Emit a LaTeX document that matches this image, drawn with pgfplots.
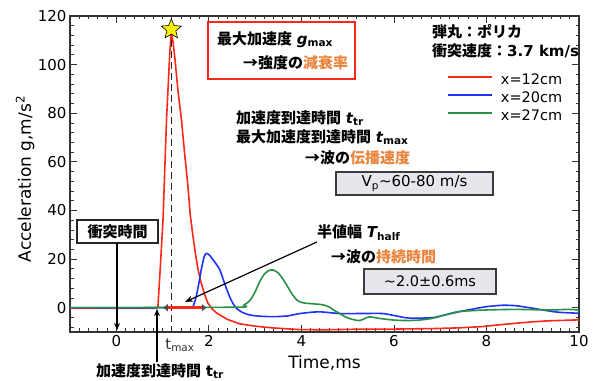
\documentclass[border=0pt]{standalone}
\usepackage{pgfplots}
\pgfplotsset{compat=1.18}
\usetikzlibrary{arrows.meta}
\usepackage{fontspec}
\setmainfont{DejaVu Sans}
\newfontfamily\jp{Noto Sans CJK JP}
\definecolor{cred}{RGB}{250,40,25}
\definecolor{cblue}{RGB}{30,50,250}
\definecolor{cgreen}{RGB}{40,145,70}
\definecolor{orng}{RGB}{234,132,60}
\definecolor{boxg}{RGB}{230,231,236}
\definecolor{boxd}{RGB}{60,60,60}
\newcommand\fs[1]{\fontsize{#1}{#1}\selectfont}
\pgfdeclareplotmark{bigstar}{%
  \pgfpathmoveto{\pgfpointpolar{90}{\pgfplotmarksize}}%
  \pgfpathlineto{\pgfpointpolar{126}{0.45\pgfplotmarksize}}%
  \pgfpathlineto{\pgfpointpolar{162}{\pgfplotmarksize}}%
  \pgfpathlineto{\pgfpointpolar{198}{0.45\pgfplotmarksize}}%
  \pgfpathlineto{\pgfpointpolar{234}{\pgfplotmarksize}}%
  \pgfpathlineto{\pgfpointpolar{270}{0.45\pgfplotmarksize}}%
  \pgfpathlineto{\pgfpointpolar{306}{\pgfplotmarksize}}%
  \pgfpathlineto{\pgfpointpolar{342}{0.45\pgfplotmarksize}}%
  \pgfpathlineto{\pgfpointpolar{18}{\pgfplotmarksize}}%
  \pgfpathlineto{\pgfpointpolar{54}{0.45\pgfplotmarksize}}%
  \pgfpathclose
  \pgfusepathqfillstroke
}
\begin{document}
\begin{tikzpicture}
\begin{axis}[name=ax, scale only axis, width=509pt, height=316pt,
  xmin=-1, xmax=10, ymin=-10, ymax=120,
  xtick={0,2,...,10}, ytick={0,20,...,120},
  minor xtick={-0.8,-0.6,...,9.9}, minor ytick={-8,-4,...,118},
  major tick length=7pt, minor tick length=3.5pt,
  tick style={black!80, line width=0.8pt},
  axis line style={black!80, line width=1.2pt},
  ticklabel style={font=\fs{15}},
  /pgf/number format/assume math mode=true,
  xlabel={Time,ms}, ylabel={Acceleration g,m/s\textsuperscript{2}},
  xlabel style={font=\fs{17}, at={(axis description cs:0.5,-0.098)}, anchor=center},
  ylabel style={font=\fs{17}, at={(axis description cs:-0.088,0.484)}, anchor=center},
  legend style={draw=none, fill=none, at={(axis description cs:0.741,0.818)}, anchor=north west,
    font=\fs{14.5}, inner sep=0pt, nodes={inner sep=0pt, text height=11pt, text depth=3pt},
    row sep=4pt, /tikz/every odd column/.append style={column sep=8pt}},
  legend cell align=left,
  legend image code/.code={\draw[#1] (0pt,4pt) -- (44pt,4pt);},
]
\addplot[cred, line width=1.6pt, line join=round] coordinates {
(-1,-0.3) (0.5,-0.3) (0.86,-0.3) (0.90,0.5) (0.95,16) (1.01,36) (1.085,77) (1.157,105) (1.19,113.5) (1.225,109.5) (1.265,103) (1.33,90) (1.41,77) (1.48,63) (1.55,49.7) (1.60,38) (1.66,29) (1.72,21) (1.77,15.5) (1.83,10.5) (1.88,7.3) (1.93,4.3) (1.98,1.9) (2.07,-0.5) (2.17,-2.2) (2.4,-4.8) (2.66,-6.6) (3.0,-7.6) (3.37,-8.3) (3.95,-9.0) (4.5,-9.1) (5.03,-8.9) (6.0,-8.8) (6.83,-8.6) (7.4,-8.3) (7.9,-7.8) (8.3,-7.0) (8.64,-6.4) (9.0,-5.8) (9.35,-5.4) (10,-5.0)};
\addlegendentry{x=12cm}
\addplot[cblue, line width=1.6pt, line join=round, smooth, tension=0.4] coordinates {
(-1,0) (1.0,0) (1.6,0.2) (1.66,0.6) (1.72,4) (1.78,9.5) (1.84,16) (1.9,21) (1.95,22.4) (2.02,21.5) (2.12,19) (2.24,15.5) (2.35,9.5) (2.45,4.5) (2.52,1.8) (2.6,-0.3) (2.72,-1.9) (2.89,-3.0) (3.1,-3.5) (3.39,-3.7) (3.7,-3.4) (3.97,-2.4) (4.38,-1.7) (4.82,-2.4) (5.3,-2.4) (5.75,-2.4) (6.0,-3.2) (6.33,-4.3) (6.83,-4.1) (7.1,-3.0) (7.4,-1.7) (7.7,-0.6) (7.99,0.4) (8.35,1.0) (8.64,0.8) (8.99,-0.2) (9.3,-1.2) (9.57,-1.9) (10,-2.3)};
\addlegendentry{x=20cm}
\addplot[cgreen, line width=1.6pt, line join=round, smooth, tension=0.4] coordinates {
(-1,0) (2.6,0.2) (2.75,1) (2.89,3) (3.0,6.5) (3.1,10.7) (3.2,13.8) (3.3,15.3) (3.39,15.5) (3.5,14.3) (3.6,11.8) (3.68,9.4) (3.8,5.6) (3.9,3.2) (4.0,2.2) (4.11,1.8) (4.38,1.4) (4.5,1.0) (4.6,0.3) (4.7,-1) (4.82,-2.3) (5.0,-4.2) (5.25,-5.3) (5.46,-3.8) (5.68,-4.4) (6.0,-5.1) (6.33,-5.3) (6.6,-5.0) (6.83,-4.4) (7.1,-3.0) (7.4,-1.6) (7.99,-0.95) (8.64,-0.7) (9.35,-0.95) (9.78,-0.7) (10,-1)};
\addlegendentry{x=27cm}
% t_max dashed line
\addplot[black!85, line width=1.3pt, dash pattern=on 7pt off 4pt, forget plot] coordinates {(1.19,110) (1.19,-10)};
% peak star
\addplot[only marks, mark=bigstar, mark size=10.5pt, mark options={fill=yellow, draw=black, line width=0.6pt}, forget plot] coordinates {(1.19,114.5)};
% half-width bar
\addplot[cred, line width=3.5pt, {Latex[length=5pt,width=8pt,color=black!70]}-{Latex[length=5pt,width=8pt,color=black!70]}, forget plot] coordinates {(1.005,0) (1.957,0)};
\end{axis}
\begin{scope}[shift={([xshift=-70pt,yshift=16pt]ax.north west)}, x=1pt, y=-1pt]
  % red box
  \draw[cred, line width=1.6pt] (208,22) rectangle (355,79);
  \node[anchor=west, inner sep=0pt] at (217,40) {\fs{15}{\jp\bfseries 最大加速度} {\bfseries\itshape g}\textsubscript{\bfseries max}};
  \node[anchor=west, inner sep=0pt] at (243,63) {\fs{15}\jp\bfseries →強度の\textcolor{orng}{減衰率}};
  % projectile info
  \node[anchor=west, inner sep=0pt] at (432,32) {\fs{15}\jp\bfseries 弾丸：ポリカ};
  \node[anchor=west, inner sep=0pt] at (432,51) {\fs{15}{\jp\bfseries 衝突速度：}{\bfseries 3.7 km/s}};
  % arrival times
  \node[anchor=west, inner sep=0pt] at (236,118) {\fs{15}{\jp\bfseries 加速度到達時間} {\bfseries\itshape t}\textsubscript{\bfseries tr}};
  \node[anchor=west, inner sep=0pt] at (236,137) {\fs{15}{\jp\bfseries 最大加速度到達時間} {\bfseries\itshape t}\textsubscript{\bfseries max}};
  \node[anchor=west, inner sep=0pt] at (305,158) {\fs{15}\jp\bfseries →波の\textcolor{orng}{伝播速度}};
  \draw[fill=boxg, draw=boxd, line width=1.3pt] (336,172) rectangle (493,195);
  \node[inner sep=0pt] at (414.5,183.5) {\fs{15}V\textsubscript{p}∼60-80 m/s};
  % half width
  \node[anchor=west, inner sep=0pt] at (317,233) {\fs{15}{\jp\bfseries 半値幅} {\bfseries\itshape T}\textsubscript{\bfseries half}};
  \node[anchor=west, inner sep=0pt] at (331,257) {\fs{15}\jp\bfseries →波の\textcolor{orng}{持続時間}};
  \draw[fill=boxg, draw=boxd, line width=1.3pt] (364,269) rectangle (496,294);
  \node[inner sep=0pt] at (430,281.5) {\fs{14.5}\textasciitilde 2.0±0.6ms};
  \draw[-{Stealth[length=8pt,width=6pt]}, line width=1.2pt] (317,242) -- (185,302);
  % impact time
  \draw[fill=white, draw=black!85, line width=1.2pt] (77,220) rectangle (158,243);
  \node[inner sep=0pt] at (117.5,231.5) {\fs{15}\jp\bfseries 衝突時間};
  \draw[-{Stealth[length=7pt,width=6pt]}, line width=1.1pt] (117,243) -- (117,330);
  % bottom label
  \node[inner sep=0pt] at (160,371) {\fs{15}{\jp\bfseries 加速度到達時間} {\bfseries t}\textsubscript{\bfseries tr}};
  \draw[-{Stealth[length=7pt,width=6pt]}, line width=1.1pt] (157,362) -- (157,309);
  % t_max label
  \node[inner sep=0pt, text=black!80] at (180,345) {\fs{15}t\textsubscript{max}};
\end{scope}
\pgfresetboundingbox
\path[use as bounding box] ([xshift=-70pt,yshift=-49pt]ax.south west) rectangle ([xshift=15pt,yshift=16pt]ax.north east);
\end{tikzpicture}
\end{document}
